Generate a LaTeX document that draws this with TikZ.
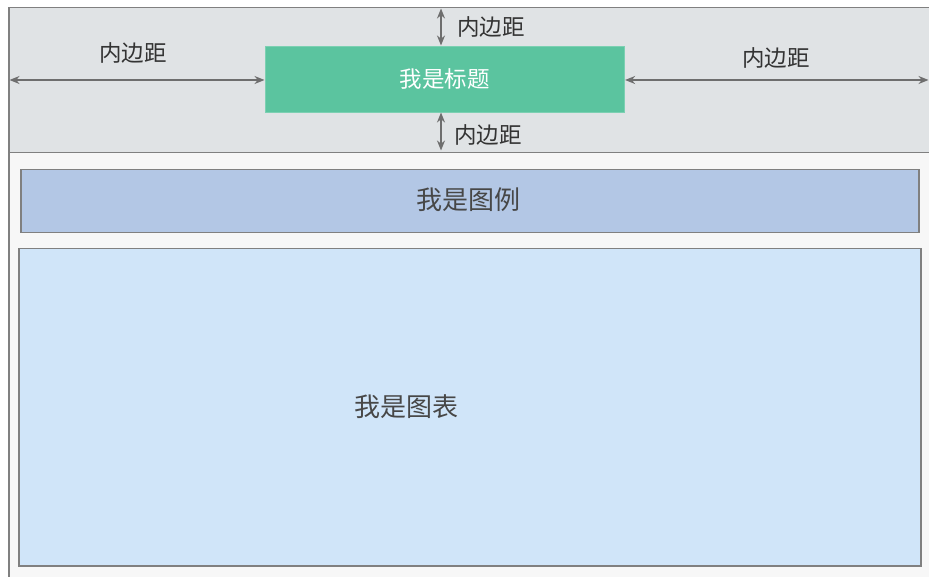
\documentclass[tikz,border=0pt]{standalone}
\usepackage{fontspec}
\newfontfamily\cjk{Noto Sans CJK SC}
\usetikzlibrary{arrows.meta}
\definecolor{hdrfill}{HTML}{E0E3E5}
\definecolor{bodyfill}{HTML}{F7F7F7}
\definecolor{framecol}{HTML}{808080}
\definecolor{titlefill}{HTML}{5BC49F}
\definecolor{legendfill}{HTML}{B3C7E5}
\definecolor{chartfill}{HTML}{D0E5F9}
\definecolor{arrowcol}{HTML}{6E6E6E}
\definecolor{txtcol}{HTML}{333333}
\tikzset{
  frame/.style={draw=framecol, line width=1.5pt, anchor=north west, inner sep=0pt},
  boxtext/.style={font=\cjk\fontsize{26}{30}\selectfont, text=txtcol!90},
  lbl/.style={font=\cjk\fontsize{22.5}{26}\selectfont, text=txtcol, inner sep=0pt},
  dim/.style={draw=arrowcol, line width=2pt, {Stealth[length=10pt,width=8pt]}-{Stealth[length=10pt,width=8pt]}, shorten <=0.5pt, shorten >=0.5pt}
}
\begin{document}
\begin{tikzpicture}[x=1pt,y=-1pt]
\useasboundingbox (0,0) rectangle (929,577);
\clip (0,0) rectangle (929,577);
\fill[white] (0,0) rectangle (929,577);
% body area
\node[frame, fill=bodyfill, minimum width=940pt, minimum height=440pt] (body) at (8,152) {};
% header
\node[frame, fill=hdrfill, minimum width=940pt, minimum height=145pt] (header) at (8,7) {};
% title
\node[anchor=north west, fill=titlefill, draw=titlefill!80!white, line width=0.6pt, minimum width=359pt, minimum height=66pt, inner sep=0pt,
      font=\cjk\fontsize{22.5}{26}\selectfont, text=white] (title) at (265,46) {我是标题};
% legend
\node[frame, fill=legendfill, minimum width=898pt, minimum height=63pt] (legend) at (20,169) {};
\node[boxtext] (legendtxt) at (468,200) {我是图例};
% chart
\node[frame, fill=chartfill, minimum width=902pt, minimum height=317pt] (chart) at (18,248) {};
\node[boxtext] (charttxt) at (406,407) {我是图表};
% padding arrows
\coordinate (lend) at (9,80);
\coordinate (rend) at (929,80);
\coordinate (ttop) at (441,46);
\coordinate (tbot) at (441,112);
\coordinate (htop) at (441,8);
\coordinate (hbot) at (441,151);
\draw[dim] (lend) -- (title.west |- lend);
\draw[dim] (title.east |- rend) -- (rend);
\draw[dim] (htop) -- (ttop);
\draw[dim] (tbot) -- (hbot);
% labels
\node[lbl] (lblL) at (133,53) {内边距};
\node[lbl] (lblR) at (776,58) {内边距};
\node[lbl] (lblT) at (491,27) {内边距};
\node[lbl] (lblB) at (488,135) {内边距};
\end{tikzpicture}
\end{document}
